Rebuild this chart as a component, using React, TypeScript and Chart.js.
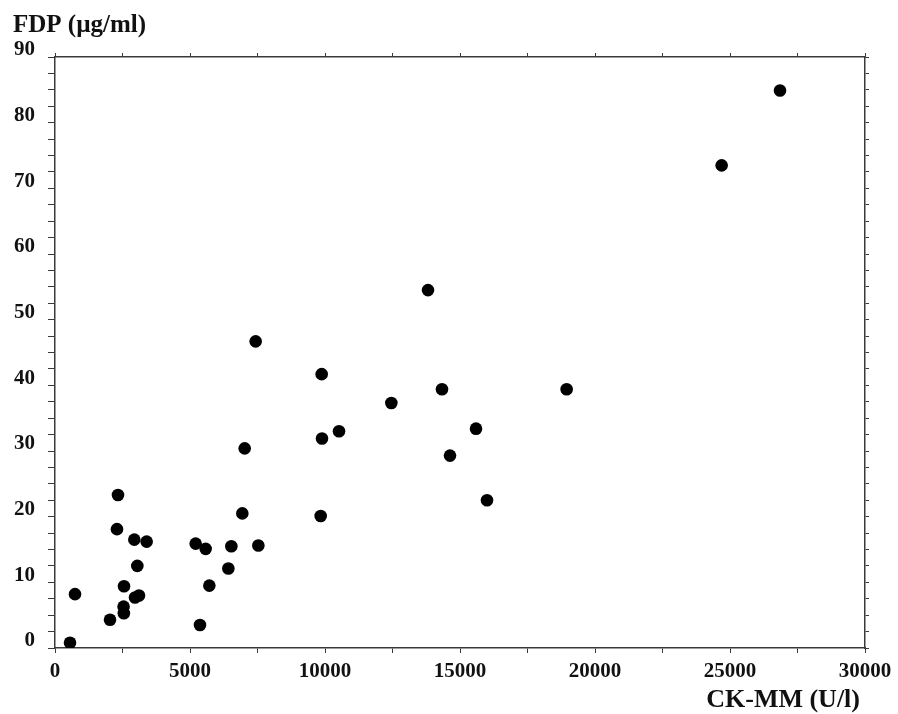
import React, { useEffect, useRef } from "react";
import { Chart, registerables } from "chart.js";

Chart.register(...registerables);

const ckmm: number[] = [
  556, 741, 2037, 2333, 2296, 2556, 2540, 2550, 2937, 3395, 3049, 2963, 3111,
  5210, 5580, 5370, 5716, 6420, 6531, 6938, 7025, 7531, 7432, 9877, 9889,
  10519, 9840, 12457, 13815, 14333, 15593, 14630, 16000, 18950, 24691, 26852,
];
const fdp: number[] = [
  0.8, 8.2, 4.3, 23.3, 18.1, 9.4, 6.3, 5.3, 16.5, 16.2, 12.5, 7.7, 8.0,
  15.9, 15.1, 3.5, 9.5, 12.1, 15.5, 20.5, 30.4, 15.6, 46.7, 41.7, 31.9,
  33.0, 20.1, 37.3, 54.5, 39.4, 33.4, 29.3, 22.5, 39.4, 73.5, 84.9,
];
const xTitle = "CK-MM (U/l)";
const yTitle = "FDP (µg/ml)";
const xMin = 0, xMax = 30000, xStep = 2500, xLabelEvery = 5000;
const yMin = 0, yMax = 90, yStep = 2.5, yLabelEvery = 10;

const FONT = "'Liberation Serif', 'DejaVu Serif', serif";
const AXIS = "#3a3a3a";

export default function App() {
  const ref = useRef<HTMLCanvasElement | null>(null);
  useEffect(() => {
    document.body.style.margin = "0";
    const canvas = ref.current!;
    const titles = {
      id: "titles",
      afterDraw(chart: any) {
        const { ctx, chartArea } = chart;
        ctx.save();
        ctx.fillStyle = "#111";
        ctx.font = `bold 25px ${FONT}`;
        ctx.textBaseline = "alphabetic";
        ctx.textAlign = "left";
        ctx.fillText(yTitle, chartArea.left - 42, chartArea.top - 25);
        ctx.textAlign = "right";
        ctx.font = `bold 26px ${FONT}`;
        ctx.fillText(xTitle, chartArea.right - 5, chartArea.bottom + 59);
        ctx.restore();
      },
    };
    const mirror = (pos: string, min: number, max: number, step: number, size: number) => ({
      type: "linear",
      position: pos,
      min,
      max,
      afterFit: (s: any) => {
        if (pos === "top") s.height = size;
        else s.width = size;
      },
      ticks: { display: false, stepSize: step, autoSkip: false },
      grid: { drawOnChartArea: false, drawTicks: true, tickLength: 4, tickColor: AXIS, tickWidth: 1 },
      border: { display: true, color: AXIS, width: 1.5 },
    });
    const chart = new Chart(canvas, {
      type: "scatter",
      data: {
        datasets: [
          {
            data: ckmm.map((x, i) => ({ x, y: fdp[i] })),
            backgroundColor: "#000",
            borderColor: "#000",
            pointRadius: 6.3,
            pointHoverRadius: 6.3,
            borderWidth: 0,
          },
        ],
      },
      options: {
        animation: false,
        responsive: false,
        maintainAspectRatio: false,
        layout: { padding: 0 },
        plugins: { legend: { display: false }, tooltip: { enabled: false } },
        scales: {
          x: {
            type: "linear",
            position: "bottom",
            min: xMin,
            max: xMax,
            afterFit: (s: any) => { s.height = 66; },
            ticks: {
              stepSize: xStep,
              autoSkip: false,
              maxRotation: 0,
              padding: 6,
              color: "#111",
              font: { family: FONT, size: 21, weight: "bold" },
              callback: (v: any) => (Number(v) % xLabelEvery === 0 ? String(v) : ""),
            },
            grid: { drawOnChartArea: false, tickLength: 5, tickColor: AXIS, tickWidth: 1 },
            border: { display: true, color: AXIS, width: 1.5 },
          },
          y: {
            type: "linear",
            position: "left",
            min: yMin,
            max: yMax,
            afterFit: (s: any) => { s.width = 55; },
            ticks: {
              stepSize: yStep,
              autoSkip: false,
              padding: 13,
              labelOffset: -7,
              color: "#111",
              font: { family: FONT, size: 21, weight: "bold" },
              callback: (v: any) => (Number(v) % yLabelEvery === 0 ? String(v) : ""),
            },
            grid: { drawOnChartArea: false, tickLength: 7, tickColor: AXIS, tickWidth: 1 },
            border: { display: true, color: AXIS, width: 1.5 },
          },
          x2: mirror("top", xMin, xMax, xStep, 57) as any,
          y2: mirror("right", yMin, yMax, yStep, 33) as any,
        },
      } as any,
      plugins: [titles],
    });
    return () => chart.destroy();
  }, []);
  return (
    <div style={{ width: 898, height: 714 }}>
      <canvas ref={ref} width={898} height={714} style={{ display: "block" }} />
    </div>
  );
}
